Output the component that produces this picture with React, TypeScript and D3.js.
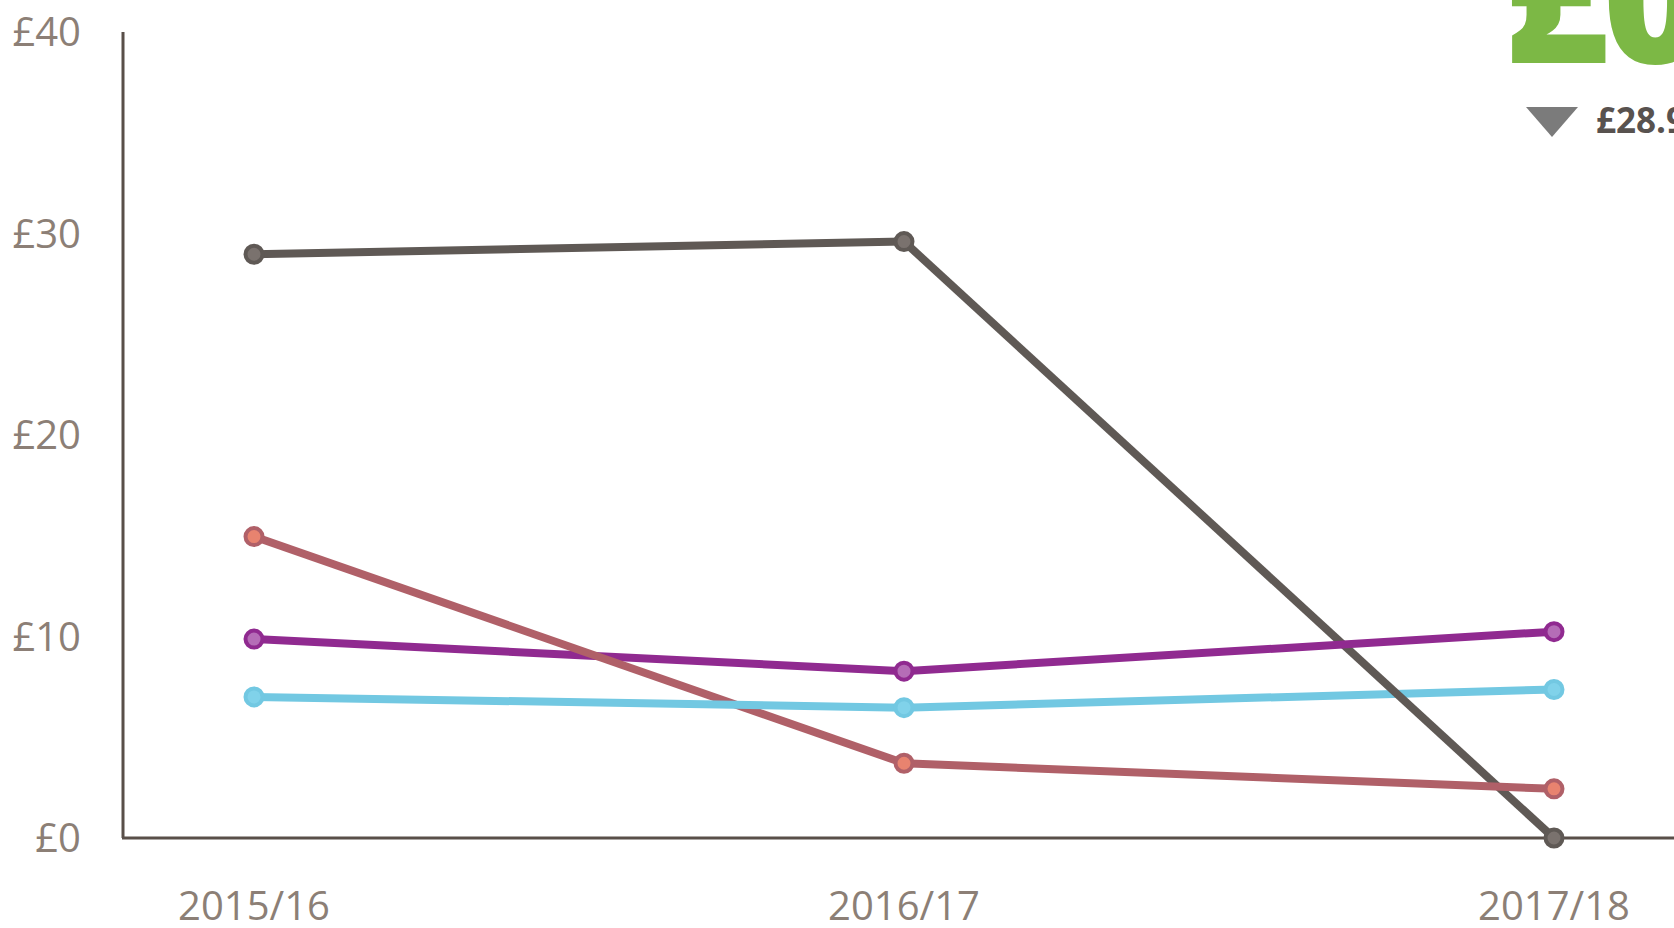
import React from "react";
import * as d3 from "d3";

const years = ["2015/16", "2016/17", "2017/18"];
const yTicks = [0, 10, 20, 30, 40];
const greySeries = [28.97, 29.6, 0];
const redSeries = [14.96, 3.71, 2.44];
const purpleSeries = [9.87, 8.28, 10.24];
const cyanSeries = [7.0, 6.47, 7.37];
const headline = "£0";
const changeLabel = "£28.97";

const series = [
  { key: "grey", values: greySeries, line: "#5f5955", fill: "#7a726e" },
  { key: "red", values: redSeries, line: "#b06068", fill: "#e8836f" },
  { key: "purple", values: purpleSeries, line: "#902a90", fill: "#b56db7" },
  { key: "cyan", values: cyanSeries, line: "#72c8e2", fill: "#80d2ea" },
];
// drawing order per segment (crossings in the reference)
const segmentOrder = [
  ["grey", "purple", "red", "cyan"],
  ["cyan", "grey", "purple", "red"],
];

const W = 1674;
const H = 928;
const font = "'Open Sans', 'DejaVu Sans', sans-serif";

export default function App() {
  const x = d3.scalePoint<string>().domain(years).range([254, 1554]);
  const y = d3.scaleLinear().domain([0, 40]).range([838, 32]);
  const line = d3
    .line<{ yr: string; v: number }>()
    .x((d) => x(d.yr) as number)
    .y((d) => y(d.v));
  const byKey: Record<string, (typeof series)[number]> = {};
  series.forEach((s) => (byKey[s.key] = s));

  return (
    <svg
      width={W}
      height={H}
      style={{ position: "absolute", left: 0, top: 0, display: "block" }}
    >
      <rect width={W} height={H} fill="#ffffff" />
      {/* axes */}
      <line x1={123} x2={123} y1={y(40)} y2={y(0)} stroke="#594f49" strokeWidth={3} />
      <line x1={122} x2={W} y1={y(0)} y2={y(0)} stroke="#594f49" strokeWidth={3} />
      {yTicks.map((t) => (
        <text
          key={t}
          x={81}
          y={y(t)}
          dy="0.35em"
          textAnchor="end"
          fontFamily={font}
          fontSize={40}
          fill="#8c7f76"
        >
          {"£" + t}
        </text>
      ))}
      {years.map((yr) => (
        <text
          key={yr}
          x={x(yr) as number}
          y={920}
          textAnchor="middle"
          fontFamily={font}
          fontSize={40}
          fill="#8c7f76"
        >
          {yr}
        </text>
      ))}
      {/* lines, segment by segment */}
      {segmentOrder.map((order, i) =>
        order.map((k) => {
          const s = byKey[k];
          const pts = [
            { yr: years[i], v: s.values[i] },
            { yr: years[i + 1], v: s.values[i + 1] },
          ];
          return (
            <path
              key={k + i}
              d={line(pts) || ""}
              fill="none"
              stroke={s.line}
              strokeWidth={8}
              strokeLinecap="butt"
            />
          );
        })
      )}
      {/* markers */}
      {series.map((s) =>
        s.values.map((v, i) => (
          <circle
            key={s.key + "m" + i}
            cx={x(years[i]) as number}
            cy={y(v)}
            r={8.5}
            fill={s.fill}
            stroke={s.line}
            strokeWidth={4}
          />
        ))
      )}
      {/* headline */}
      <text
        x={1503}
        y={63}
        fontFamily={font}
        fontWeight={800}
        fontSize={180}
        letterSpacing={-6}
        fill="#7cb845"
      >
        {headline}
      </text>
      <path d="M1526,107 L1578,107 L1552,137 Z" fill="#7b7b7b" />
      <text
        x={1596}
        y={133}
        fontFamily={font}
        fontWeight={700}
        fontSize={35}
        fill="#58524f"
      >
        {changeLabel}
      </text>
    </svg>
  );
}
